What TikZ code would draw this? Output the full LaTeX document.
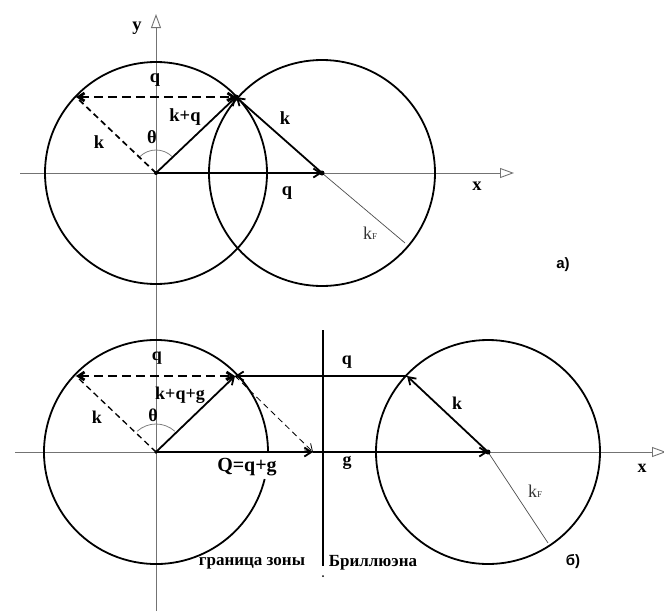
\documentclass[tikz,border=0pt]{standalone}
\usepackage{fontspec}
\setmainfont{Liberation Serif}
\newfontfamily\sansf{Liberation Sans}
\usetikzlibrary{arrows.meta,calc}
\begin{document}
\begin{tikzpicture}[x=1pt,y=-1pt,
  circ/.style={line width=1.8pt},
  axis/.style={line width=0.9pt, draw=black!55, -{Triangle[open,length=14pt,width=10pt,line width=0.9pt]}},
  tip/.style={-{Straight Barb[length=7pt,width=9pt]}},
  vec/.style={line width=1.8pt, tip},
  dvec/.style={line width=2.8pt, dash pattern=on 9pt off 5pt, {Straight Barb[length=6pt,width=8pt]}-{Straight Barb[length=6pt,width=8pt]}},
  dk/.style={line width=1.7pt, dash pattern=on 6pt off 4pt},
  thinl/.style={line width=0.7pt, draw=black!70},
  ang/.style={line width=0.8pt, draw=black!50},
  lbl/.style={font=\bfseries\fontsize{18.5}{18.5}\selectfont, inner sep=0pt},
  lblb/.style={font=\bfseries\fontsize{18}{18}\selectfont, inner sep=0pt},
  big/.style={font=\bfseries\fontsize{20}{20}\selectfont, inner sep=0pt},
  kf/.style={font=\fontsize{18}{18}\selectfont, inner sep=0pt, text=black!80},
  tag/.style={font=\sansf\bfseries\fontsize{15}{15}\selectfont, inner sep=0pt},
  ru/.style={font=\bfseries\fontsize{17}{17}\selectfont, inner sep=0pt}
]
\useasboundingbox (0,0) rectangle (664,611);

% ---------- coordinates, part a) ----------
\coordinate (O1) at (156,173);
\coordinate (C2) at (322,173);
\coordinate (P1) at (236,97);
\coordinate (L1) at (76,97);
\coordinate (F1) at (405,243);
\coordinate (Xa0) at (20,173);
\coordinate (Xa1) at (514,173);
\coordinate (Yb) at (156,611);
\coordinate (Yt) at (156,14);

% ---------- coordinates, part b) ----------
\coordinate (O2) at (156,452);
\coordinate (P2) at (235,376);
\coordinate (L2) at (76,376);
\coordinate (Q2) at (313,452);
\coordinate (C3) at (488,452);
\coordinate (K3) at (407,376);
\coordinate (F3) at (548,543);
\coordinate (B0) at (323,330);
\coordinate (B1) at (323,566);
\coordinate (B2) at (323,576);
\coordinate (Xb0) at (15,452);
\coordinate (Xb1) at (666,452);

% axes
\draw[axis] (Yb) -- (Yt);
\draw[axis] (Xa0) -- (Xa1);
\draw[axis] (Xb0) -- (Xb1);

% ---------- part a) ----------
\draw[circ] (O1) circle[radius=111];
\draw[circ] (C2) circle[radius=113];
\draw[thinl] (C2) -- (F1);
\draw[ang] (O1) ++(-45:23) arc[start angle=-45, end angle=-135, radius=23];
\draw[dk] (O1) -- (L1);
\draw[dvec] (L1) -- (P1);
\draw[vec] (O1) -- (P1);
\draw[vec] (C2) -- (P1);
\draw[vec] (O1) -- (C2);
\fill (O1) circle[radius=2];
\fill (C2) circle[radius=2.5];
\fill (P1) circle[radius=2.5];

\node[lbl] (ly) at (137,28) {y};
\node[lbl] (lq1) at (155,80) {q};
\node[lbl] (lkq) at (185,117) {k+q};
\node[lbl] (lk1r) at (285,118) {k};
\node[lbl] (lk1l) at (99,142) {k};
\node[lbl] (lth1) at (152,137) {θ};
\node[lbl] (lq1b) at (287,193) {q};
\node[kf] (lkf1) at (370,233) {k{\fontsize{9}{9}\selectfont F}};
\node[lbl] (lx1) at (477,186) {x};
\node[tag] (la) at (563,265) {a)};

% ---------- part b) ----------
\draw[circ] ($(O2)+(14:112)$) arc[start angle=14, end angle=360, radius=112];
\draw[circ] (C3) circle[radius=112];
\draw[line width=1.8pt] (B0) -- (B1);
\fill (B2) circle[radius=1];
\draw[thinl] (C3) -- (F3);
\draw[ang] (O2) ++(-48:28) arc[start angle=-48, end angle=-132, radius=28];
\draw[dk, line width=1.3pt] (O2) -- (L2);
\draw[dvec] (L2) -- (P2);
\draw[vec] (O2) -- (P2);
\draw[line width=0.8pt, dash pattern=on 6pt off 4pt, tip] (P2) -- (Q2);
\draw[vec] (O2) -- (Q2);
\draw[vec] (Q2) -- (C3);
\draw[vec] (C3) -- (K3);
\draw[vec] (K3) -- (P2);
\fill (O2) circle[radius=1.8];
\fill (C3) circle[radius=2.5];

\node[lblb] (lq2) at (157,358) {q};
\node[lblb] (lkqg) at (180,395) {k+q+g};
\node[lblb] (lk2l) at (97,417) {k};
\node[lblb] (lth2) at (153,415) {θ};
\node[big] (lQ) at (247,467) {Q=q+g};
\node[lblb] (lq2r) at (347,362) {q};
\node[lblb] (lg) at (347,463) {g};
\node[lblb] (lk2r) at (457,403) {k};
\node[kf] (lkf2) at (535,491) {k{\fontsize{9}{9}\selectfont F}};
\node[lblb] (lx2) at (642,468) {x};
\node[tag] (lb) at (573,562) {б)};
\node[ru] (lgz) at (252,563) {граница зоны};
\node[ru] (lbr) at (373,563) {Бриллюэна};
\end{tikzpicture}
\end{document}
